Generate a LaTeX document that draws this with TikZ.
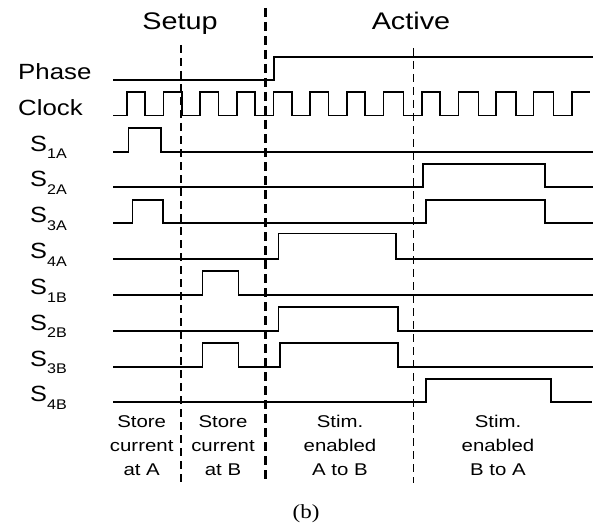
\documentclass[tikz,border=0pt]{standalone}
\usepackage{fontspec}
\setmainfont{Liberation Sans}
\newfontfamily\capfont{Liberation Serif}
\newcommand{\sigsub}[1]{\raisebox{-7.5pt}{\fontsize{14}{14}\selectfont #1}}
\begin{document}
\begin{tikzpicture}[x=1pt,y=-1pt,
    wave/.style={line width=1.6pt},
    slotline/.style={line width=1.2pt,dash pattern=on 8pt off 5pt},
    phaseline/.style={line width=2.8pt,dash pattern=on 9pt off 5pt},
    sig/.style={anchor=base west,inner sep=0pt,xscale=1.15,font=\fontsize{22}{22}\selectfont},
    head/.style={anchor=base,inner sep=0pt,xscale=1.2,font=\fontsize{24}{24}\selectfont},
    slot/.style={anchor=base,inner sep=0pt,xscale=1.2,align=center,font=\fontsize{17}{24}\selectfont}]
  \useasboundingbox (0,0) rectangle (611,527);

  % headings and signal names
  \node[head] (setup) at (180,30) {Setup};
  \node[head] (active) at (411,30) {Active};
  \node[sig,xscale=1.02] (phase) at (18,80) {Phase};
  \node[sig,xscale=1.02] (clock) at (18,115.5) {Clock};
  \node[sig] (s1a) at (30,151) {S\sigsub{1A}};
  \node[sig] (s2a) at (30,186.5) {S\sigsub{2A}};
  \node[sig] (s3a) at (30,222.5) {S\sigsub{3A}};
  \node[sig] (s4a) at (30,258.5) {S\sigsub{4A}};
  \node[sig] (s1b) at (30,294.5) {S\sigsub{1B}};
  \node[sig] (s2b) at (30,330) {S\sigsub{2B}};
  \node[sig] (s3b) at (30,366) {S\sigsub{3B}};
  \node[sig] (s4b) at (30,401.5) {S\sigsub{4B}};

  % waveforms
  \draw[wave] (113,80) -- (274,80) -- (274,57) -- (593,57);
  \draw[wave] (113,115.5)
    \foreach \r/\f in {126.7/145,163.3/181.7,200/218.3,236.7/255,273.3/291.7,310/328.3,
                       346.7/365,383.3/403.3,421.7/440,458.3/478.3,496/515.7,533.3/553.3}
      { -- (\r,115.5) -- (\r,92) -- (\f,92) -- (\f,115.5) }
    -- (571.7,115.5) -- (571.7,92) -- (590,92);
  \draw[wave] (113,152) -- (128.3,152) -- (128.3,128) -- (160.7,128) -- (160.7,152) -- (593,152);
  \draw[wave] (113,187) -- (423,187) -- (423,164) -- (545,164) -- (545,187) -- (593,187);
  \draw[wave] (113,223) -- (132.3,223) -- (132.3,200) -- (162.7,200) -- (162.7,223)
    -- (425.7,223) -- (425.7,200) -- (545,200) -- (545,223) -- (593,223);
  \draw[wave] (113,259) -- (278.3,259) -- (278.3,233.5) -- (396,233.5) -- (396,259) -- (593,259);
  \draw[wave] (113,295) -- (202.3,295) -- (202.3,271) -- (238.3,271) -- (238.3,295) -- (593,295);
  \draw[wave] (113,331) -- (278.3,331) -- (278.3,307) -- (397.7,307) -- (397.7,331) -- (593,331);
  \draw[wave] (113,367) -- (202.3,367) -- (202.3,343) -- (238.3,343) -- (238.3,367)
    -- (280,367) -- (280,343) -- (397.7,343) -- (397.7,367) -- (593,367);
  \draw[wave] (113,402) -- (425.7,402) -- (425.7,379) -- (551,379) -- (551,402) -- (591.7,402);

  % phase boundaries
  \draw[slotline] (181,45) -- (181,482);
  \draw[phaseline] (265.7,8) -- (265.7,480);
  \draw[slotline] (413.3,48) -- (413.3,483);

  % slot captions
  \node[slot] (storea) at (141.7,475) {Store\\current\\at A};
  \node[slot] (storeb) at (223,475) {Store\\current\\at B};
  \node[slot] (stimab) at (340,475) {Stim.\\enabled\\A to B};
  \node[slot] (stimba) at (498,475) {Stim.\\enabled\\B to A};
  \node[anchor=base,inner sep=0pt,xscale=1.15,font=\capfont\fontsize{20}{20}\selectfont] (cap) at (306,518) {(b)};
\end{tikzpicture}
\end{document}
